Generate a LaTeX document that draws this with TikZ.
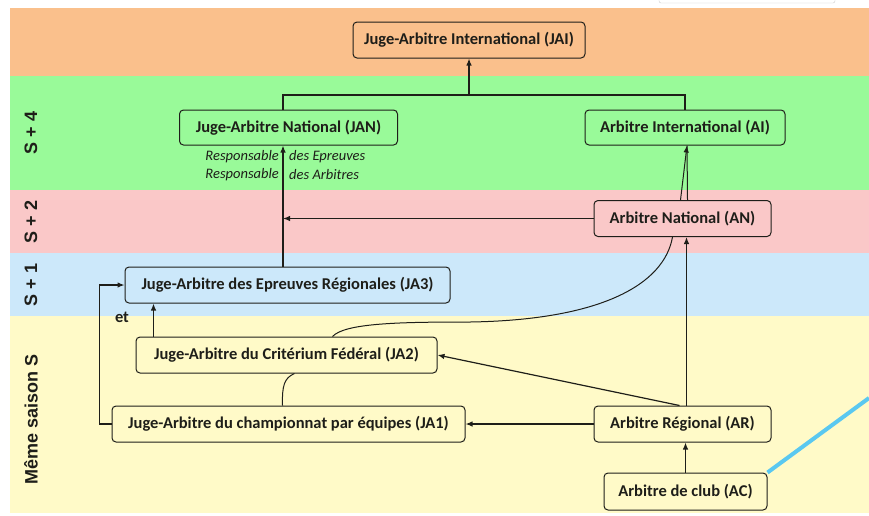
\documentclass[tikz,border=0pt]{standalone}
\usepackage{fontspec}
\setmainfont{Carlito}
\newfontfamily\lateral{Liberation Sans}
\usepackage{tikz}
\usetikzlibrary{arrows.meta}
\definecolor{bandorange}{RGB}{250,192,140}
\definecolor{bandgreen}{RGB}{153,250,153}
\definecolor{bandpink}{RGB}{250,200,200}
\definecolor{bandblue}{RGB}{204,232,250}
\definecolor{bandyellow}{RGB}{255,250,200}
\definecolor{trait}{RGB}{30,30,25}
\definecolor{surligne}{RGB}{90,200,240}
\tikzset{
  grade/.style={draw=trait, line width=1pt, rounded corners=4pt, inner sep=0pt,
    font=\fontsize{16.5}{18}\selectfont\bfseries, text=trait, minimum height=36pt},
  fleche/.style={draw=trait, line width=1.2pt, -{Latex[length=7pt,width=5.5pt]}},
  lien/.style={draw=trait, line width=1.2pt},
  saison/.style={rotate=90, font=\lateral\fontsize{18}{20}\selectfont\bfseries, text=trait},
  mention/.style={font=\fontsize{14.5}{16}\selectfont\itshape, text=trait, inner sep=0pt}
}

\begin{document}
\begin{tikzpicture}[x=1pt, y=-1pt]
%\draw[step=50, gray!40] (0,0) grid (869,515);
\useasboundingbox (0,0) rectangle (869,515);

% bandes des saisons
\fill[bandorange] (10,8) rectangle (869,76);
\fill[bandgreen]  (10,76) rectangle (869,190);
\fill[bandpink]   (10,190) rectangle (869,253);
\fill[bandblue]   (10,253) rectangle (869,316);
\fill[bandyellow] (10,316) rectangle (869,513);
\draw[gray!40, fill=white, rounded corners=2pt] (659,-6) rectangle (835,3);

    \node[saison] (s4) at (31,133) {S + 4};
    \node[saison] (s2) at (31,222) {S + 2};
    \node[saison] (s1) at (31,285) {S + 1};
    \node[saison] (s0) at (31,419) {Même saison S};

% les grades
    \node[grade, minimum width=232pt] (JAI) at (469,40)    {Juge-Arbitre International (JAI)};
    \node[grade, minimum width=218pt, minimum height=35pt] (JAN) at (288.5,127.5) {Juge-Arbitre National (JAN)};
    \node[grade, minimum width=200pt, minimum height=35pt] (AI)  at (685,127.5)   {Arbitre International (AI)};
    \node[grade, minimum width=177pt] (AN)  at (682.5,218.5) {Arbitre National (AN)};
    \node[grade, minimum width=325pt] (JA3) at (287.5,285)   {Juge-Arbitre des Epreuves Régionales (JA3)};
    \node[grade, minimum width=301pt] (JA2) at (286.5,355)   {Juge-Arbitre du Critérium Fédéral (JA2)};
    \node[grade, minimum width=353pt] (JA1) at (288.5,424)   {Juge-Arbitre du championnat par équipes (JA1)};
    \node[grade, minimum width=177pt] (AR)  at (682.5,424)   {Arbitre Régional (AR)};
    \node[grade, minimum width=163pt, minimum height=37pt] (AC) at (685.5,491.5) {Arbitre de club (AC)};

    \coordinate (jl) at (283,0);
    \coordinate (fourche) at (469,95);

    \node[mention, anchor=east] (r1) at (279,157) {Responsable};
    \node[mention, anchor=west] (e1) at (289,157) {des Epreuves};
    \node[mention, anchor=east] (r2) at (279,175) {Responsable};
    \node[mention, anchor=west] (e2) at (289,175) {des Arbitres};
    \node[font=\fontsize{16.5}{18}\selectfont\bfseries, text=trait] (et) at (122,317) {et};

% liaisons
\draw[lien] (JAN.north -| jl) |- (fourche) -| (AI.north);
\draw[fleche] (fourche) -- (JAI.south);
\draw[fleche] (JA3.north -| jl) -- (JAN.south -| jl);
\draw[fleche] (AN.west) -- (AN.west -| jl);
\draw[fleche] ([xshift=4pt]AR.north) -- ([xshift=4pt]AN.south);
\draw[fleche] (AC.north) -- (AC.north |- AR.south);
\draw[fleche] (AR.west) -- (JA1.east);
\draw[fleche] ([xshift=-3pt]AR.north) -- (JA2.east);
\draw[fleche] (JA1.west) -- ++(-12,0) |- (JA3.west);
\draw[fleche] ([xshift=18pt]JA2.north west) -- ([xshift=18pt]JA2.north west |- JA3.south);
\draw[lien, line width=1pt] ([xshift=-6pt]JA1.north) .. controls (282,386) and (284,378) .. ([xshift=8pt]JA2.south);
\draw[lien, line width=1pt] ([xshift=46pt]JA2.north) .. controls (345,323) and (400,322) .. (470,322)
      .. controls (600,320) and (664,285) .. ([xshift=-10pt]AN.south);
\draw[fleche, line width=1pt] ([xshift=-2pt]AN.north) -- ([xshift=2pt]AI.south);
\draw[lien, line width=1pt] ([xshift=5pt]AN.north) -- ([xshift=2pt]AI.south);

\draw[surligne, line width=4pt] (AC.north east) -- (869,398);
\end{tikzpicture}
\end{document}
